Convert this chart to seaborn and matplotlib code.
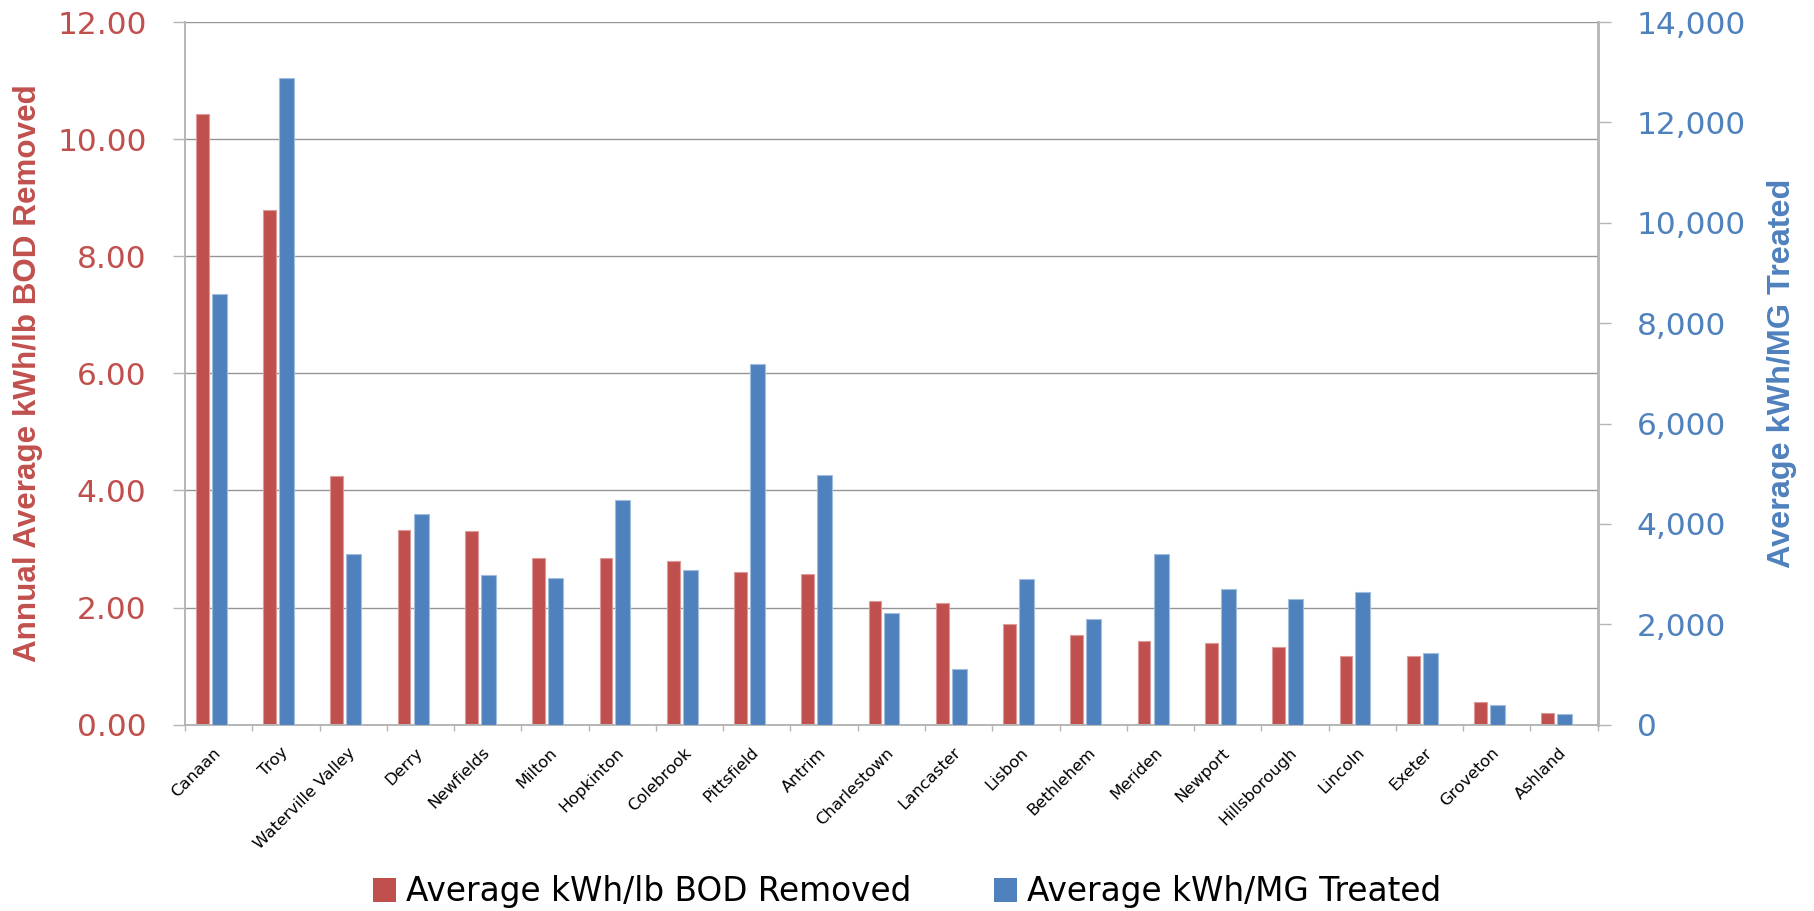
import numpy as np
import matplotlib
matplotlib.use("Agg")
import matplotlib.pyplot as plt
from matplotlib.patches import Patch
from matplotlib.ticker import FuncFormatter, FixedLocator
from matplotlib.transforms import ScaledTranslation
import seaborn as sns

# Energy intensity of wastewater treatment facilities
towns = ["Canaan", "Troy", "Waterville Valley", "Derry", "Newfields", "Milton",
         "Hopkinton", "Colebrook", "Pittsfield", "Antrim", "Charlestown",
         "Lancaster", "Lisbon", "Bethlehem", "Meriden", "Newport",
         "Hillsborough", "Lincoln", "Exeter", "Groveton", "Ashland"]
kwh_per_lb_bod = [10.43, 8.79, 4.24, 3.33, 3.30, 2.85, 2.84, 2.79, 2.60, 2.58,
                  2.12, 2.07, 1.72, 1.53, 1.43, 1.40, 1.32, 1.18, 1.17, 0.38, 0.20]
kwh_per_mg = [8575, 12880, 3400, 4205, 2975, 2915, 4470, 3090, 7185, 4980,
              2225, 1115, 2895, 2100, 3400, 2705, 2500, 2650, 1420, 390, 215]

series_bod = "Average kWh/lb BOD Removed"
series_mg = "Average kWh/MG Treated"
left_title = "Annual Average kWh/lb BOD Removed"
right_title = "Average kWh/MG Treated"

RED = "#C0504D"
BLUE = "#4F81BD"
GRID = "#959595"
AXIS = "#b5b5b5"

sns.set_style("white")
plt.rcParams["font.family"] = ["DejaVu Sans"]
plt.rcParams["text.color"] = "black"
plt.rcParams["xtick.labelcolor"] = "black"

fig = plt.figure(figsize=(18.14, 9.11), dpi=100)
ax = fig.add_axes([0.10198, 0.2045, 0.77878, 0.77135])
ax2 = ax.twinx()

idx = np.arange(len(towns))

# primary axis: kWh per lb BOD (bars sit left of the category centre)
sns.barplot(x=idx - 0.243, y=kwh_per_lb_bod, native_scale=True, orient="x",
            width=0.189, color=RED, saturation=1, edgecolor="#dc9a98",
            linewidth=0.8, ax=ax)
# secondary axis: kWh per million gallons
sns.barplot(x=idx + 0.009, y=kwh_per_mg, native_scale=True, orient="x",
            width=0.223, color=BLUE, saturation=1, edgecolor="#a2bde0",
            linewidth=0.8, ax=ax2)

n = len(towns)
ax.set_xlim(-0.5, n - 0.5)
ax2.set_xlim(-0.5, n - 0.5)

# left axis
ax.set_ylim(0, 12)
ax.yaxis.set_major_locator(FixedLocator(np.arange(0, 12.01, 2)))
ax.yaxis.set_major_formatter(FuncFormatter(lambda v, p: f"{v:.2f}"))
ax.tick_params(axis="y", which="major", length=8.6, width=1, color=AXIS,
               labelsize=22.5, labelcolor=RED, pad=19, left=True)
ax.set_axisbelow(True)
ax.yaxis.grid(True, color=GRID, linewidth=1.0)
ax.xaxis.grid(False)

# right axis
ax2.set_ylim(0, 14000)
ax2.yaxis.set_major_locator(FixedLocator(np.arange(0, 14001, 2000)))
ax2.yaxis.set_major_formatter(FuncFormatter(lambda v, p: f"{int(v):,}"))
ax2.tick_params(axis="y", which="major", length=9.4, width=1, color=AXIS,
                labelsize=22.5, labelcolor=BLUE, pad=18.7, right=True)
ax2.grid(False)

# category axis: labels at centres, tick marks at boundaries
ax.set_xticks(idx)
ax.set_xticklabels(towns, rotation=45, ha="right", va="top", fontsize=11.8,
                   color="black")
ax.set_xticks(np.arange(n + 1) - 0.5, minor=True)
ax.tick_params(axis="x", which="major", length=0, pad=14.5, bottom=True)
ax.tick_params(axis="x", which="minor", length=4.5, width=1, color=AXIS,
               bottom=True)
shift = ScaledTranslation(0.05, 0, fig.dpi_scale_trans)
for lab in ax.get_xticklabels():
    lab.set_transform(lab.get_transform() + shift)

ax.set_xlabel("")
ax.set_ylabel("")
ax2.set_ylabel("")

for name, sp in ax.spines.items():
    if name in ("left", "bottom"):
        sp.set_visible(True)
        sp.set_color(AXIS)
        sp.set_linewidth(1.4)
    else:
        sp.set_visible(False)
for name, sp in ax2.spines.items():
    if name == "right":
        sp.set_visible(True)
        sp.set_color(AXIS)
        sp.set_linewidth(2.0)
    else:
        sp.set_visible(False)

# axis titles
fig.text(28 / 1814, 1 - 373.5 / 911, left_title, rotation=90, ha="center",
         va="center", fontsize=22.6, fontweight="bold", color=RED,
         family=["Liberation Sans", "DejaVu Sans"])
fig.text(1782 / 1814, 1 - 373 / 911, right_title, rotation=90, ha="center",
         va="center", fontsize=23.3, fontweight="bold", color=BLUE,
         family=["Liberation Sans", "DejaVu Sans"])

# legend
handles = [Patch(facecolor=RED, edgecolor="none", label=series_bod),
           Patch(facecolor=BLUE, edgecolor="none", label=series_mg)]
leg = fig.legend(handles=handles, loc="center",
                 bbox_to_anchor=(0.5, 1 - 892 / 911), ncol=2, frameon=False,
                 fontsize=23.6, handlelength=0.72, handleheight=0.72,
                 handletextpad=0.3, columnspacing=2.5, borderaxespad=0,
                 borderpad=0)
for t in leg.get_texts():
    t.set_color("black")

fig.savefig("out.png", dpi=100, facecolor="white")
